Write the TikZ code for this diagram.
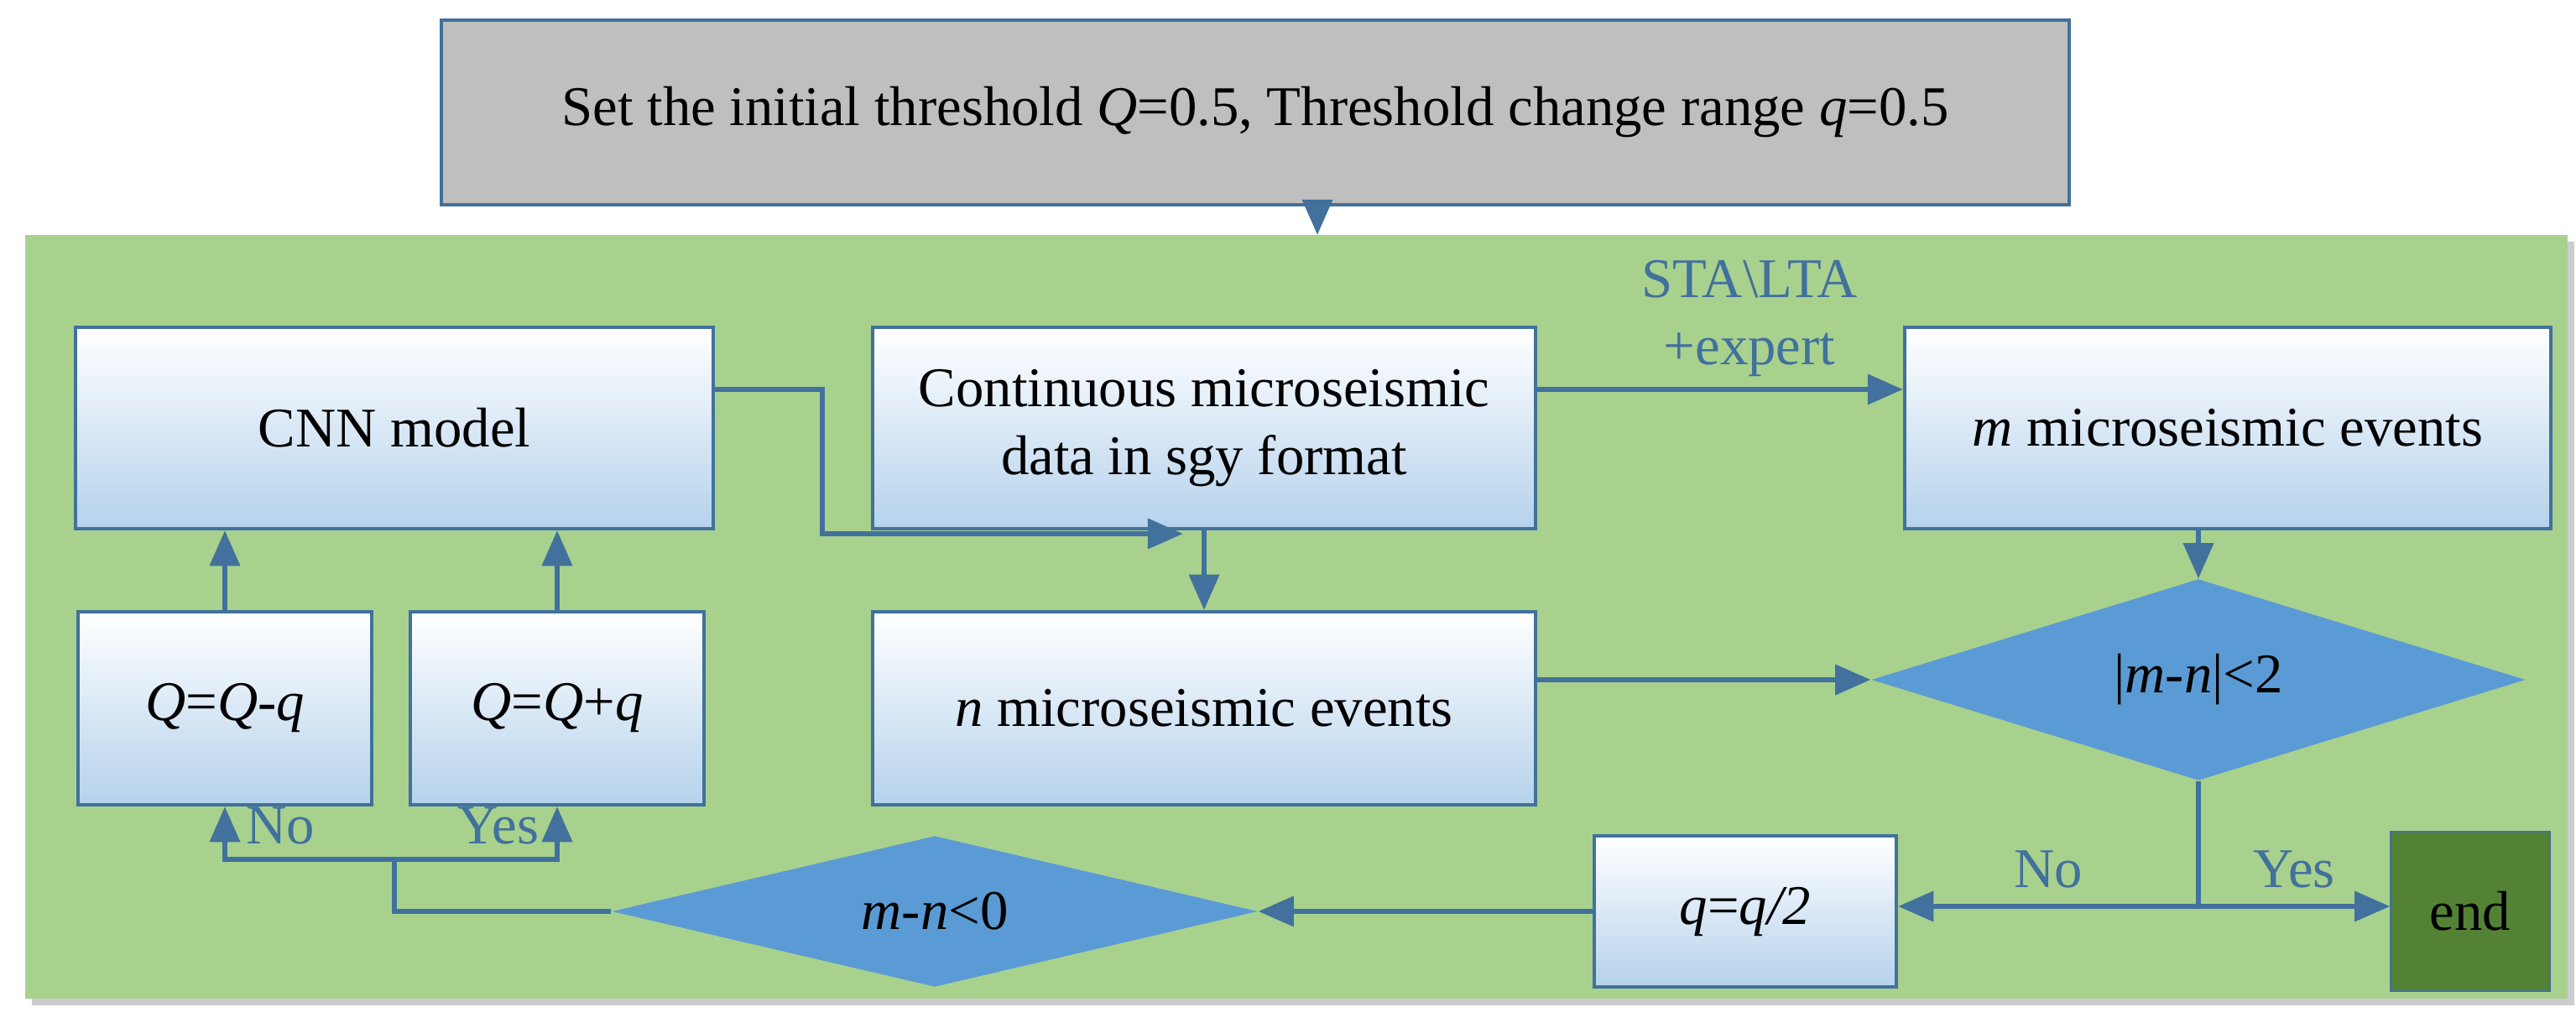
\documentclass[tikz,border=0pt]{standalone}
\usepackage{fontspec}
\setmainfont{Liberation Serif}
\usetikzlibrary{shapes.geometric,arrows.meta,shadows}
\definecolor{ln}{HTML}{41719C}
\definecolor{gr}{HTML}{A9D18E}
\definecolor{dm}{HTML}{5B9BD5}
\definecolor{eg}{HTML}{548235}
\begin{document}
\begin{tikzpicture}[x=0.02cm,y=-0.02cm,
  bx/.style={draw=ln,line width=1.2pt,top color=white,bottom color=dm!45,inner sep=0pt,align=center,font=\fontsize{19}{23}\selectfont},
  dia/.style={diamond,fill=dm,draw=none,inner sep=0pt,font=\fontsize{19}{23}\selectfont},
  ar/.style={draw=ln,line width=1.8pt,-{Triangle[length=12pt,width=10pt]}},
  li/.style={draw=ln,line width=1.8pt},
  lb/.style={text=ln,font=\fontsize{19}{23}\selectfont,align=center}]
\useasboundingbox (0,0) rectangle (1535,609.5);
\fill[black!20] (19,144) rectangle (1534,599);
\fill[gr] (15,140) rectangle (1530,595);
\node[draw=ln,line width=1.2pt,fill=black!25,minimum width=970*0.02cm,minimum height=110*0.02cm,font=\fontsize{19}{23}\selectfont] (top) at (748,67) {Set the initial threshold \textit{Q}=0.5, Threshold change range \textit{q}=0.5};
\coordinate (g) at (785,140);
\draw[ar] (785,122) -- (g);
\node[bx,minimum width=7.6cm,minimum height=2.4cm] (cnn) at (235,255) {CNN model};
\node[bx,minimum width=7.9cm,minimum height=2.4cm] (cont) at (717.5,255) {Continuous microseismic\\data in sgy format};
\node[bx,minimum width=7.7cm,minimum height=2.4cm] (m) at (1327.5,255) {\textit{m} microseismic events};
\node[bx,minimum width=3.5cm,minimum height=2.3cm] (q1) at (134,422) {\textit{Q}=\textit{Q}-\textit{q}};
\node[bx,minimum width=3.5cm,minimum height=2.3cm] (q2) at (332,422) {\textit{Q}=\textit{Q}+\textit{q}};
\node[bx,minimum width=7.9cm,minimum height=2.3cm] (n) at (717.5,422) {\textit{n} microseismic events};
\node[dia,minimum width=7.8cm,minimum height=2.4cm,aspect=3.5] (d1) at (1310,405) {|\textit{m}-\textit{n}|<2};
\node[bx,minimum width=3.6cm,minimum height=1.8cm] (qh) at (1040,543) {\textit{q}=\textit{q/2}};
\node[draw=ln,fill=eg,minimum width=1.9cm,minimum height=1.9cm,font=\fontsize{19}{23}\selectfont] (e) at (1472,543) {end};
\node[dia,minimum width=7.7cm,minimum height=1.8cm,aspect=4.5] (d2) at (557,543) {\textit{m}-\textit{n}<0};
\draw[li] (cnn.east |- 0,232) -- (490,232) -- (490,318) -- (700,318);
\draw[ar] (490,318) -- (705,318);
\draw[ar] (cont) -- (n);
\draw[ar] (cont.east |- 0,232) -- (m.west |- 0,232) node[lb,midway,above=0pt,xshift=10pt] {STA\textbackslash LTA\\+expert};
\draw[ar] (m.south -| d1) -- (d1.north);
\draw[ar] (n.east |- d1) -- (d1.west);
\coordinate (j) at (1310,540);
\draw[li] (d1.south) -- (j);
\draw[ar] (j) -- (qh.east |- j) node[lb,midway,above=2pt] {No};
\draw[ar] (j) -- (e.west |- j) node[lb,midway,above=2pt] {Yes};
\draw[ar] (qh.west) -- (d2.east);
\coordinate (k) at (235,512);
\draw[li] (d2.west) -- (235,543) -- (k);
\draw[ar] (k) -- (134,512) -- (q1.south);
\draw[ar] (k) -- (332,512) -- (q2.south);
\node[lb] at (167,492) {No};
\node[lb] at (297,492) {Yes};
\draw[ar] (q1) -- (cnn.south -| q1);
\draw[ar] (q2) -- (cnn.south -| q2);
\end{tikzpicture}
\end{document}
